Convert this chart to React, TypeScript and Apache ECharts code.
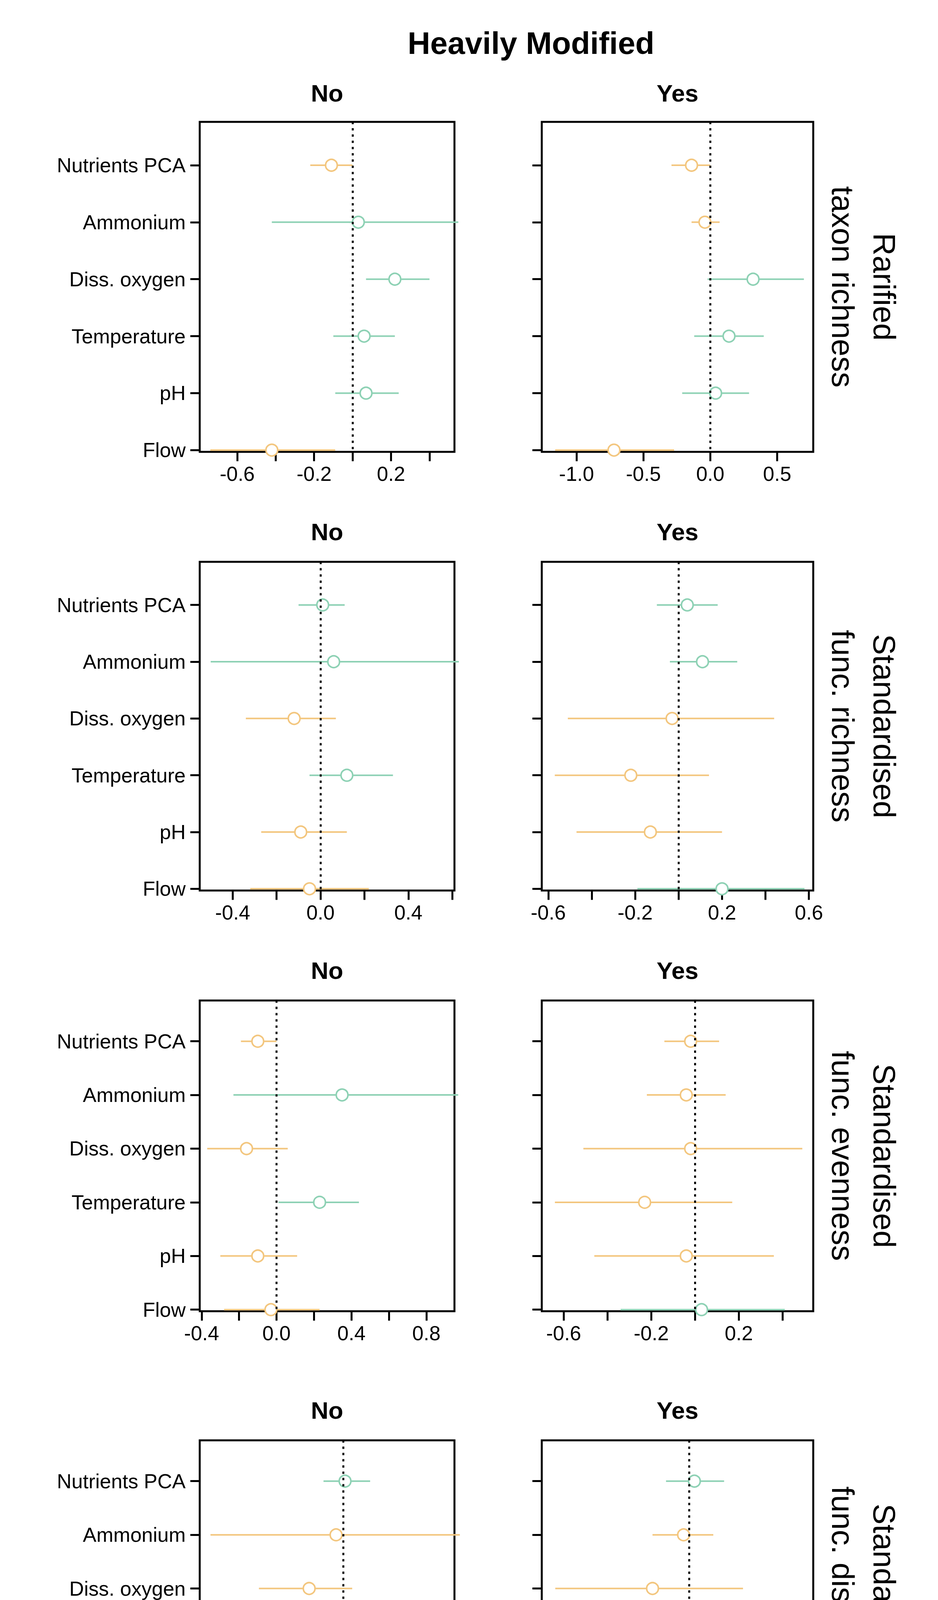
import React, { useEffect, useRef } from 'react'
import * as echarts from 'echarts'

const predictors = ['Nutrients PCA', 'Ammonium', 'Diss. oxygen', 'Temperature', 'pH', 'Flow']
const colNames = ['No', 'Yes']
const rowNames = ['Rarified\ntaxon richness', 'Standardised\nfunc. richness', 'Standardised\nfunc. evenness', 'Standardised\nfunc. dispersion']

// row 1: rarified taxon richness
const richNoEst = [-0.11, 0.03, 0.22, 0.06, 0.07, -0.42]
const richNoLo = [-0.22, -0.42, 0.07, -0.1, -0.09, -0.74]
const richNoHi = [0.0, 0.55, 0.4, 0.22, 0.24, -0.09]
const richYesEst = [-0.14, -0.04, 0.32, 0.14, 0.04, -0.72]
const richYesLo = [-0.29, -0.14, -0.02, -0.12, -0.21, -1.16]
const richYesHi = [0.0, 0.07, 0.7, 0.4, 0.29, -0.27]
// row 2: functional richness
const fricNoEst = [0.01, 0.06, -0.12, 0.12, -0.09, -0.05]
const fricNoLo = [-0.1, -0.5, -0.34, -0.05, -0.27, -0.32]
const fricNoHi = [0.11, 0.63, 0.07, 0.33, 0.12, 0.22]
const fricYesEst = [0.04, 0.11, -0.03, -0.22, -0.13, 0.2]
const fricYesLo = [-0.1, -0.04, -0.51, -0.57, -0.47, -0.19]
const fricYesHi = [0.18, 0.27, 0.44, 0.14, 0.2, 0.58]
// row 3: functional evenness
const fevenNoEst = [-0.1, 0.35, -0.16, 0.23, -0.1, -0.03]
const fevenNoLo = [-0.19, -0.23, -0.37, 0.01, -0.3, -0.28]
const fevenNoHi = [0.0, 0.97, 0.06, 0.44, 0.11, 0.23]
const fevenYesEst = [-0.02, -0.04, -0.02, -0.23, -0.04, 0.03]
const fevenYesLo = [-0.14, -0.22, -0.51, -0.64, -0.46, -0.34]
const fevenYesHi = [0.11, 0.14, 0.49, 0.17, 0.36, 0.41]
// row 4: functional dispersion
const fdisNoEst = [0.01, -0.04, -0.19, -0.03, 0.01, 0.11]
const fdisNoLo = [-0.11, -0.74, -0.47, -0.27, -0.21, -0.22]
const fdisNoHi = [0.15, 0.65, 0.05, 0.2, 0.24, 0.45]
const fdisYesEst = [0.04, -0.04, -0.27, -0.12, 0.06, 0.23]
const fdisYesLo = [-0.17, -0.27, -0.99, -0.65, -0.44, -0.32]
const fdisYesHi = [0.26, 0.18, 0.4, 0.39, 0.59, 0.85]

// axis settings per panel (row-major: No, Yes)
const xMins = [-0.795, -1.26, -0.55, -0.63, -0.41, -0.7, -0.8, -1.09]
const xMaxs = [0.53, 0.77, 0.61, 0.62, 0.95, 0.54, 0.62, 0.92]
const xTicks = [
  [-0.6, -0.4, -0.2, 0, 0.2, 0.4],
  [-1.0, -0.5, 0, 0.5],
  [-0.4, -0.2, 0, 0.2, 0.4, 0.6],
  [-0.6, -0.4, -0.2, 0, 0.2, 0.4, 0.6],
  [-0.4, -0.2, 0, 0.2, 0.4, 0.6, 0.8],
  [-0.6, -0.4, -0.2, 0, 0.2, 0.4],
  [-0.6, -0.4, -0.2, 0, 0.2, 0.4, 0.6],
  [-0.5, 0, 0.5],
]
const xLabels = [
  [-0.6, -0.2, 0.2],
  [-1.0, -0.5, 0, 0.5],
  [-0.4, 0, 0.4],
  [-0.6, -0.2, 0.2, 0.6],
  [-0.4, 0, 0.4, 0.8],
  [-0.6, -0.2, 0.2],
  [-0.6, -0.2, 0.2, 0.6],
  [-0.5, 0, 0.5],
]

const panels = [
  [richNoEst, richNoLo, richNoHi],
  [richYesEst, richYesLo, richYesHi],
  [fricNoEst, fricNoLo, fricNoHi],
  [fricYesEst, fricYesLo, fricYesHi],
  [fevenNoEst, fevenNoLo, fevenNoHi],
  [fevenYesEst, fevenYesLo, fevenYesHi],
  [fdisNoEst, fdisNoLo, fdisNoHi],
  [fdisYesEst, fdisYesLo, fdisYesHi],
]

const K = 3.06
const ORANGE = '#F3C67E'
const GREEN = '#8DD1B4'
const FONT = 'Liberation Sans, Arial, sans-serif'
const colLeft = [167, 453]
const colWidth = [213, 227]
const rowTop = [102, 470, 837, 1205]
const rowHeight = [276, 275, 260, 260]
const subY = [78, 445, 812, 1180]

const App: React.FC = () => {
  const ref = useRef<HTMLDivElement>(null)

  useEffect(() => {
    if (!ref.current) return
    document.body.style.margin = '0'
    const chart = echarts.init(ref.current, undefined, { renderer: 'svg' })

    const grid: any[] = []
    const xAxis: any[] = []
    const yAxis: any[] = []
    const series: any[] = []
    const graphic: any[] = [
      {
        type: 'text', x: 444 * K, y: 36 * K,
        style: { text: 'Heavily Modified', font: `bold 80px ${FONT}`, fill: '#000', align: 'center', verticalAlign: 'middle' },
      },
      {
        type: 'text', x: 443 * K, y: 1548 * K,
        style: { text: 'Estimate', font: `80px ${FONT}`, fill: '#000', align: 'center', verticalAlign: 'middle' },
      },
    ]

    panels.forEach((p, i) => {
      const r = Math.floor(i / 2)
      const c = i % 2
      grid.push({
        left: colLeft[c] * K, top: rowTop[r] * K,
        width: colWidth[c] * K, height: rowHeight[r] * K,
        show: true, borderColor: '#000', borderWidth: 5, backgroundColor: 'transparent',
      })
      xAxis.push({
        type: 'value', gridIndex: i, min: xMins[i], max: xMaxs[i], position: 'bottom',
        splitLine: { show: false },
        axisLine: { show: false, onZero: false },
        axisTick: { show: true, length: 24, lineStyle: { color: '#000', width: 5 }, customValues: xTicks[i] },
        axisLabel: {
          customValues: xLabels[i], color: '#000', fontSize: 52, fontFamily: FONT, margin: 30,
          formatter: (v: number) => v.toFixed(1),
        },
      })
      yAxis.push({
        type: 'value', gridIndex: i, inverse: true, min: -0.76, max: 5.03, position: 'left',
        splitLine: { show: false },
        axisLine: { show: false, onZero: false },
        axisTick: { show: true, length: 24, lineStyle: { color: '#000', width: 5 }, customValues: [0, 1, 2, 3, 4, 5] },
        axisLabel: {
          show: c === 0, customValues: [0, 1, 2, 3, 4, 5], color: '#000', fontSize: 52, fontFamily: FONT, margin: 36,
          formatter: (v: number) => predictors[Math.round(v)] ?? '',
        },
      })
      const [est, lo, hi] = p
      series.push({
        type: 'custom', xAxisIndex: i, yAxisIndex: i,
        data: est.map((e, j) => [e, lo[j], hi[j], j]),
        renderItem: (_params: any, api: any) => {
          const e = api.value(0)
          const idx = api.value(3)
          const color = e < 0 ? ORANGE : GREEN
          const a = api.coord([api.value(1), idx])
          const b = api.coord([api.value(2), idx])
          const m = api.coord([e, idx])
          return {
            type: 'group',
            children: [
              { type: 'line', shape: { x1: a[0], y1: a[1], x2: b[0], y2: b[1] }, style: { stroke: color, lineWidth: 4 } },
              { type: 'circle', shape: { cx: m[0], cy: m[1], r: 15 }, style: { fill: '#fff', stroke: color, lineWidth: 4 } },
            ],
          }
        },
        markLine: {
          silent: true, symbol: 'none', label: { show: false },
          lineStyle: { color: '#000', type: [6, 10], width: 5 },
          data: [{ xAxis: 0 }],
        },
      })
      graphic.push({
        type: 'text', x: (colLeft[c] + colWidth[c] / 2) * K, y: subY[r] * K,
        style: { text: colNames[c], font: `bold 62px ${FONT}`, fill: '#000', align: 'center', verticalAlign: 'middle' },
      })
    })

    rowNames.forEach((name, r) => {
      graphic.push({
        type: 'text', x: 722 * K, y: (rowTop[r] + rowHeight[r] / 2) * K, rotation: -Math.PI / 2,
        style: { text: name, font: `80px ${FONT}`, fill: '#000', align: 'center', verticalAlign: 'middle', lineHeight: 106 },
      })
    })

    chart.setOption({ animation: false, backgroundColor: '#fff', grid, xAxis, yAxis, series, graphic })
    return () => chart.dispose()
  }, [])

  return <div ref={ref} style={{ width: 2400, height: 4800 }} />
}

export default App
